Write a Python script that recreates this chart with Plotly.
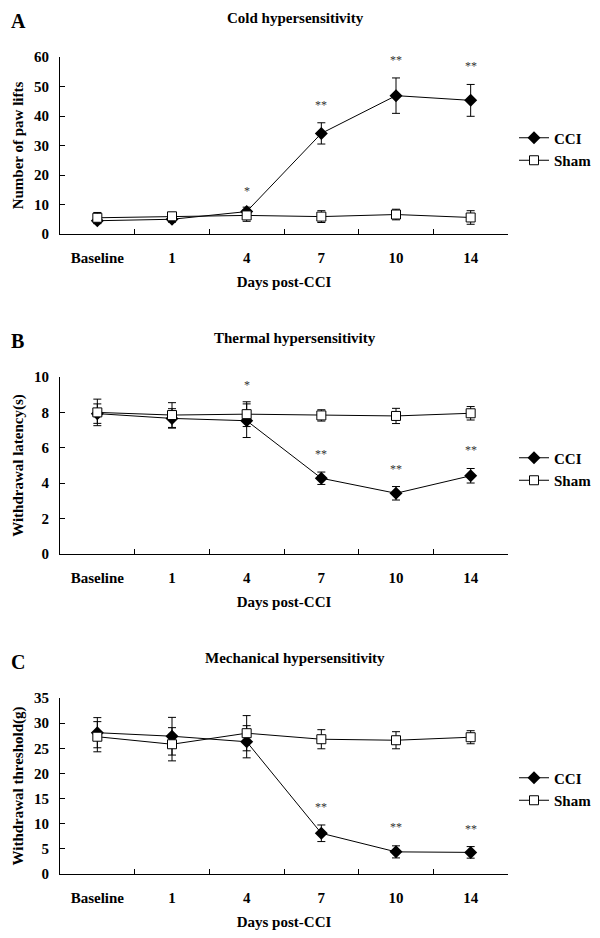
import plotly.graph_objects as go

days = ["Baseline", "1", "4", "7", "10", "14"]

# Panel A: Cold hypersensitivity (number of paw lifts)
cold_cci = [4.5, 5.0, 7.6, 34.1, 46.9, 45.3]
cold_cci_err = [1.0, 1.0, 1.5, 3.6, 6.0, 5.4]
cold_sham = [5.5, 6.0, 6.3, 5.9, 6.6, 5.6]
cold_sham_err = [1.8, 1.2, 2.0, 2.0, 1.8, 2.3]
cold_stars = ["", "", "*", "**", "**", "**"]
cold_star_y = [None, None, 14.7, 43.7, 59.0, 57.0]

# Panel B: Thermal hypersensitivity (withdrawal latency, s)
therm_cci = [7.93, 7.66, 7.53, 4.28, 3.43, 4.42]
therm_cci_err = [0.55, 0.55, 0.95, 0.35, 0.38, 0.41]
therm_sham = [8.0, 7.85, 7.9, 7.83, 7.8, 7.95]
therm_sham_err = [0.75, 0.7, 0.7, 0.32, 0.43, 0.38]
therm_stars = ["", "", "*", "**", "**", "**"]
therm_star_y = [None, None, 9.55, 5.63, 4.8, 5.88]

# Panel C: Mechanical hypersensitivity (withdrawal threshold, g)
mech_cci = [28.1, 27.4, 26.3, 8.1, 4.4, 4.3]
mech_cci_err = [3.0, 3.75, 3.2, 1.65, 1.2, 1.15]
mech_sham = [27.3, 25.8, 28.0, 26.8, 26.6, 27.2]
mech_sham_err = [3.0, 3.3, 3.5, 1.9, 1.7, 1.3]
mech_stars = ["", "", "*", "**", "**", "**"]
mech_star_y = [None, None, 35.1, 13.4, 9.4, 8.9]

panel_titles = ["Cold hypersensitivity", "Thermal hypersensitivity", "Mechanical hypersensitivity"]
panel_letters = ["A", "B", "C"]
y_titles = ["Number of paw lifts", "Withdrawal latency(s)", "Withdrawal threshold(g)"]
x_title = "Days post-CCI"
y_ranges = [[0, 60], [0, 10], [0, 35]]
y_dticks = [10, 2, 5]

# The page body has an 8px default margin; work in window pixels and convert.
OFF = 8
W, H = 600 - OFF, 938 - OFF
FONT = "Liberation Serif, Times New Roman, serif"


def fx(px):
    return (px - OFF) / W


def fy(py):
    return 1 - (py - OFF) / H


# window-pixel geometry
px_top = [57, 377, 698]
px_bot = [234, 554, 874]
x_left, x_right = 60, 508
title_y = [18, 338, 658]
letter_y = [21, 341, 662]
legend_c = [149, 469, 789]

panels = [
    (cold_cci, cold_cci_err, cold_sham, cold_sham_err, cold_stars, cold_star_y),
    (therm_cci, therm_cci_err, therm_sham, therm_sham_err, therm_stars, therm_star_y),
    (mech_cci, mech_cci_err, mech_sham, mech_sham_err, mech_stars, mech_star_y),
]

fig = go.Figure()
annotations = []
layout = dict(
    width=W, height=H,
    margin=dict(l=0, r=0, t=0, b=0, autoexpand=False),
    paper_bgcolor="white", plot_bgcolor="white",
    font=dict(family=FONT, color="black", size=15),
    showlegend=True,
)

for i, (cci, cci_e, sham, sham_e, stars, star_y) in enumerate(panels):
    n = i + 1
    xa = "x" if n == 1 else f"x{n}"
    ya = "y" if n == 1 else f"y{n}"
    lg = "legend" if n == 1 else f"legend{n}"
    fig.add_trace(go.Scatter(
        x=days, y=cci, name="CCI", xaxis=xa, yaxis=ya, legend=lg,
        mode="lines+markers",
        line=dict(color="black", width=1),
        marker=dict(symbol="diamond", size=10, color="black"),
        error_y=dict(type="data", array=cci_e, color="black", thickness=1, width=4),
    ))
    fig.add_trace(go.Scatter(
        x=days, y=sham, name="Sham", xaxis=xa, yaxis=ya, legend=lg,
        mode="lines+markers",
        line=dict(color="black", width=1),
        marker=dict(symbol="square", size=9, color="white", line=dict(color="black", width=1)),
        error_y=dict(type="data", array=sham_e, color="black", thickness=1, width=4),
    ))
    xkey = "xaxis" if n == 1 else f"xaxis{n}"
    ykey = "yaxis" if n == 1 else f"yaxis{n}"
    layout[xkey] = dict(
        domain=[fx(x_left), fx(x_right)], anchor=ya, type="category",
        range=[-0.5, 5.5], tickson="boundaries", ticks="inside", ticklen=5,
        tickcolor="black", showline=True, linecolor="black", linewidth=1,
        showgrid=False, zeroline=False, automargin=False,
        tickfont=dict(family=FONT, size=15, weight="bold"),
        ticklabelstandoff=10,
        title=dict(text=x_title, font=dict(family=FONT, size=15, weight="bold"), standoff=11),
    )
    layout[ykey] = dict(
        domain=[fy(px_bot[i]), fy(px_top[i])], anchor=xa, range=y_ranges[i], dtick=y_dticks[i],
        ticks="inside", ticklen=5, tickcolor="black",
        showline=True, linecolor="black", linewidth=1,
        showgrid=False, zeroline=False, automargin=False,
        tickfont=dict(family=FONT, size=15, weight="bold"),
        ticklabelstandoff=7,
        title=dict(text=y_titles[i], font=dict(family=FONT, size=15, weight="bold"), standoff=6),
    )
    layout[lg] = dict(
        x=fx(514), xanchor="left", y=fy(legend_c[i]), yanchor="middle",
        font=dict(family=FONT, size=15, weight="bold"),
        bgcolor="rgba(0,0,0,0)", tracegroupgap=0,
    )
    annotations.append(dict(
        text=panel_titles[i], x=fx(295), y=fy(title_y[i]), xref="paper", yref="paper",
        xanchor="center", yanchor="middle", showarrow=False,
        font=dict(family=FONT, size=15, weight="bold"),
    ))
    annotations.append(dict(
        text=panel_letters[i], x=fx(9), y=fy(letter_y[i]), xref="paper", yref="paper",
        xanchor="left", yanchor="middle", showarrow=False,
        font=dict(family=FONT, size=20, weight="bold"),
    ))
    for k, (s, sy) in enumerate(zip(stars, star_y)):
        if s:
            annotations.append(dict(
                text=s, x=k, y=sy, xref=xa, yref=ya, showarrow=False,
                xanchor="center", yanchor="middle",
                font=dict(family=FONT, size=12, color="#333333"),
            ))

layout["annotations"] = annotations
fig.update_layout(**layout)
fig.write_html("out.html")
